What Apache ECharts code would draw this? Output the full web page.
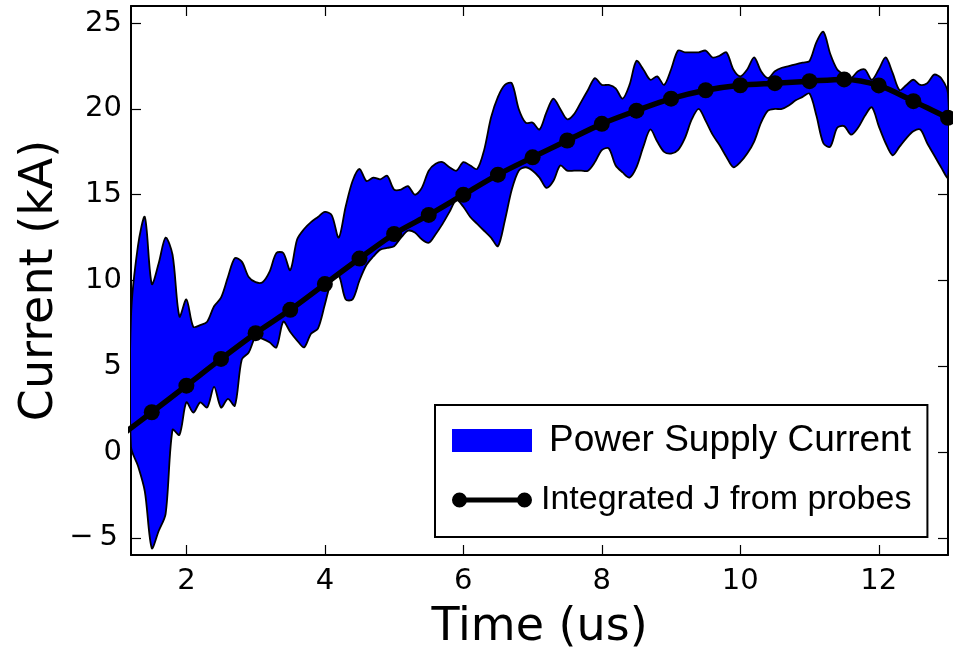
<!DOCTYPE html>
<html>
<head>
<meta charset="utf-8">
<script src="https://cdn.jsdelivr.net/npm/echarts@6/dist/echarts.min.js"></script>
<style>
html,body{margin:0;padding:0;background:#fff;}
#chart{width:953px;height:655px;}
</style>
</head>
<body>
<div id="chart"></div>
<script>
// ---- data ----
const timeUs = [1.2,1.3,1.4,1.5,1.6,1.7,1.8,1.9,2.0,2.1,2.2,2.3,2.4,2.5,2.6,2.7,2.8,2.9,3.0,3.1,3.2,3.3,3.4,3.5,3.6,3.7,3.8,3.9,4.0,4.1,4.2,4.3,4.4,4.5,4.6,4.7,4.8,4.9,5.0,5.1,5.2,5.3,5.4,5.5,5.6,5.7,5.8,5.9,6.0,6.1,6.2,6.3,6.4,6.5,6.6,6.7,6.8,6.9,7.0,7.1,7.2,7.3,7.4,7.5,7.6,7.7,7.8,7.9,8.0,8.1,8.2,8.3,8.4,8.5,8.6,8.7,8.8,8.9,9.0,9.1,9.2,9.3,9.4,9.5,9.6,9.7,9.8,9.9,10.0,10.1,10.2,10.3,10.4,10.5,10.6,10.7,10.8,10.9,11.0,11.1,11.2,11.3,11.4,11.5,11.6,11.7,11.8,11.9,12.0,12.1,12.2,12.3,12.4,12.5,12.6,12.7,12.8,12.9,13.0];

const supplyUpper = [7.9,12.0,13.7,9.8,11.0,12.5,11.5,7.9,8.9,7.3,7.4,7.6,8.5,9.0,10.2,11.3,11.1,10.2,9.9,9.9,10.5,11.6,11.6,10.6,12.4,13.0,13.4,13.7,14.0,13.8,12.5,14.3,15.8,16.5,15.8,16.0,15.9,16.1,15.3,15.3,15.5,15.0,15.4,16.4,16.8,16.9,16.6,16.4,16.9,16.7,16.5,17.6,19.5,20.7,21.4,21.5,20.0,19.2,19.2,18.8,19.8,20.6,20.0,19.4,19.7,20.4,21.1,21.8,21.4,21.4,21.2,20.6,21.4,22.8,22.3,21.7,21.9,21.4,22.3,23.4,23.3,23.3,23.3,23.4,23.0,23.1,23.3,22.3,21.9,22.3,23.0,22.2,21.8,22.2,22.4,22.5,22.6,22.7,22.8,23.9,24.5,23.2,22.3,22.0,21.8,22.2,22.3,21.7,22.3,23.0,22.1,21.1,21.4,21.7,21.4,21.5,22.0,21.8,20.9];

const supplyLower = [0.3,-0.8,-2.3,-5.6,-4.6,-3.6,1.3,1.0,2.9,2.3,2.9,2.6,3.8,2.6,3.1,2.7,5.4,5.8,6.7,6.6,6.4,6.1,7.6,7.0,6.5,6.1,6.9,7.2,8.6,10.0,10.3,8.9,8.9,10.0,10.9,11.4,11.8,11.9,12.0,12.5,12.9,12.8,12.4,12.2,12.7,13.3,14.0,14.7,14.3,13.7,13.3,12.9,12.5,12.0,13.5,15.3,16.4,16.6,16.4,16.0,15.4,15.8,16.7,16.4,16.4,16.4,16.4,16.9,17.6,17.7,16.7,16.3,16.0,16.6,17.8,18.8,18.1,17.5,17.4,17.6,18.3,19.4,20.0,19.3,18.5,17.9,17.2,16.6,16.9,17.4,18.1,19.2,19.9,20.0,20.0,20.2,20.5,20.7,20.9,19.6,18.0,17.8,18.9,19.0,18.5,18.9,19.6,20.1,19.0,18.0,17.3,17.8,18.3,18.7,18.8,18.0,17.3,16.6,16.0];

const probeTime = [1.0,1.5,2.0,2.5,3.0,3.5,4.0,4.5,5.0,5.5,6.0,6.5,7.0,7.5,8.0,8.5,9.0,9.5,10.0,10.5,11.0,11.5,12.0,12.5,13.0];
const probeJ = [0.8,2.32,3.87,5.43,6.93,8.29,9.79,11.28,12.71,13.82,15.0,16.17,17.18,18.16,19.13,19.9,20.6,21.09,21.38,21.5,21.62,21.72,21.37,20.45,19.48];

const xTicks = [2,4,6,8,10,12];
const yTicks = [-5,0,5,10,15,20,25];

const seriesNames = ['Power Supply Current', 'Integrated J from probes'];
const xTitle = 'Time (us)';
const yTitle = 'Current (kA)';

// ---- chart ----
const chart = echarts.init(document.getElementById('chart'), null, {renderer:'canvas'});

const probePts = probeTime.map((t,i)=>[t, probeJ[i]]);

const tickFont = {fontSize:29, fontFamily:'DejaVu Sans', color:'#000'};
const frameLine = {show:true, onZero:false, lineStyle:{color:'#000', width:2}};
const yLabelFmt = v => v < 0 ? '{m|\u2212}{d|' + Math.abs(v) + '}' : String(v);

function xAx(pos, labels){
  return {
    type:'value', min:1.2, max:13, position:pos, gridIndex:0,
    axisLine: frameLine,
    axisTick:{show:true, inside:true, length:10, customValues:xTicks, lineStyle:{color:'#000', width:1.2}},
    axisLabel: labels ? Object.assign({show:true, customValues:xTicks, margin:12}, tickFont) : {show:false},
    splitLine:{show:false},
    name: labels ? xTitle : '',
    nameLocation:'middle', nameGap:50, nameMoveOverlap:false,
    nameTextStyle:{fontSize:46, fontFamily:'DejaVu Sans', color:'#000'}
  };
}
function yAx(pos, labels){
  return {
    type:'value', min:-6, max:26, position:pos, gridIndex:0,
    axisLine: frameLine,
    axisTick:{show:true, inside:true, length:10, customValues:yTicks, lineStyle:{color:'#000', width:1.2}},
    axisLabel: labels ? Object.assign({show:true, customValues:yTicks, margin:9, formatter:yLabelFmt,
      rich:{
        m:{fontSize:29, fontFamily:'DejaVu Sans', color:'#000', padding:[0,6,0,0]},
        d:{fontSize:29, fontFamily:'DejaVu Sans', color:'#000', padding:[0,4,0,0]}
      }}, tickFont) : {show:false},
    splitLine:{show:false},
    name: labels ? yTitle : '',
    nameLocation:'middle', nameGap:68, nameRotate:90, nameMoveOverlap:false,
    nameTextStyle:{fontSize:46, fontFamily:'DejaVu Sans', color:'#000'}
  };
}

const probeIcon = 'path://M0,0 L0.01,0 L0,0.01 Z M80,23 L79.99,23 L80,22.99 Z ' +
  'M0,11.5 A7.5,7.5 0 1 1 15,11.5 A7.5,7.5 0 1 1 0,11.5 Z ' +
  'M65,11.5 A7.5,7.5 0 1 1 80,11.5 A7.5,7.5 0 1 1 65,11.5 Z ' +
  'M14,9 L66,9 L66,14 L14,14 Z';

// band between lower and upper supply current, mapped through the axes
function renderBand(params, api){
  const pts = [];
  for (let i = 0; i < timeUs.length; i++) pts.push(api.coord([timeUs[i], supplyUpper[i]]));
  for (let i = timeUs.length - 1; i >= 0; i--) pts.push(api.coord([timeUs[i], supplyLower[i]]));
  return {
    type:'polygon',
    shape:{points:pts, smooth:0.3},
    style:{fill:'#0000ff', stroke:'#000', lineWidth:1.8, lineJoin:'round'}
  };
}

const option = {
  animation:false,
  backgroundColor:'#fff',
  grid:{left:131, right:5, top:6, bottom:100, containLabel:false, outerBoundsMode:'none'},
  xAxis:[xAx('bottom', true), xAx('top', false)],
  yAxis:[yAx('left', true), yAx('right', false)],
  legend:{
    orient:'vertical', left:435, top:405,
    padding:[17,16,20,17],
    itemWidth:80, itemHeight:23, itemGap:24,
    borderColor:'#000', borderWidth:2, borderRadius:0,
    backgroundColor:'#fff',
    selectedMode:false,
    textStyle:{fontFamily:'Liberation Sans', color:'#000', padding:[0,0,0,12]},
    data:[
      {name:seriesNames[0], icon:'rect', itemStyle:{color:'#0000ff', borderWidth:0}, textStyle:{fontSize:37, fontFamily:'Liberation Sans', color:'#000', padding:[0,0,0,12]}},
      {name:seriesNames[1], icon:probeIcon, itemStyle:{color:'#000', borderWidth:0}, textStyle:{fontSize:34, fontFamily:'Liberation Sans', color:'#000', padding:[0,0,0,4]}}
    ]
  },
  series:[
    {
      type:'custom', name:seriesNames[0],
      coordinateSystem:'cartesian2d', xAxisIndex:0, yAxisIndex:0,
      data:[[timeUs[0], supplyLower[0]]],
      renderItem: renderBand,
      itemStyle:{color:'#0000ff'},
      clip:true,
      silent:true, z:2
    },
    {
      type:'line', name:seriesNames[1], data:probePts,
      symbol:'circle', symbolSize:16, showAllSymbol:true,
      smooth:0.3,
      itemStyle:{color:'#000'},
      lineStyle:{color:'#000', width:5.5},
      clip:true,
      z:5
    }
  ]
};
chart.setOption(option);
</script>
</body>
</html>
